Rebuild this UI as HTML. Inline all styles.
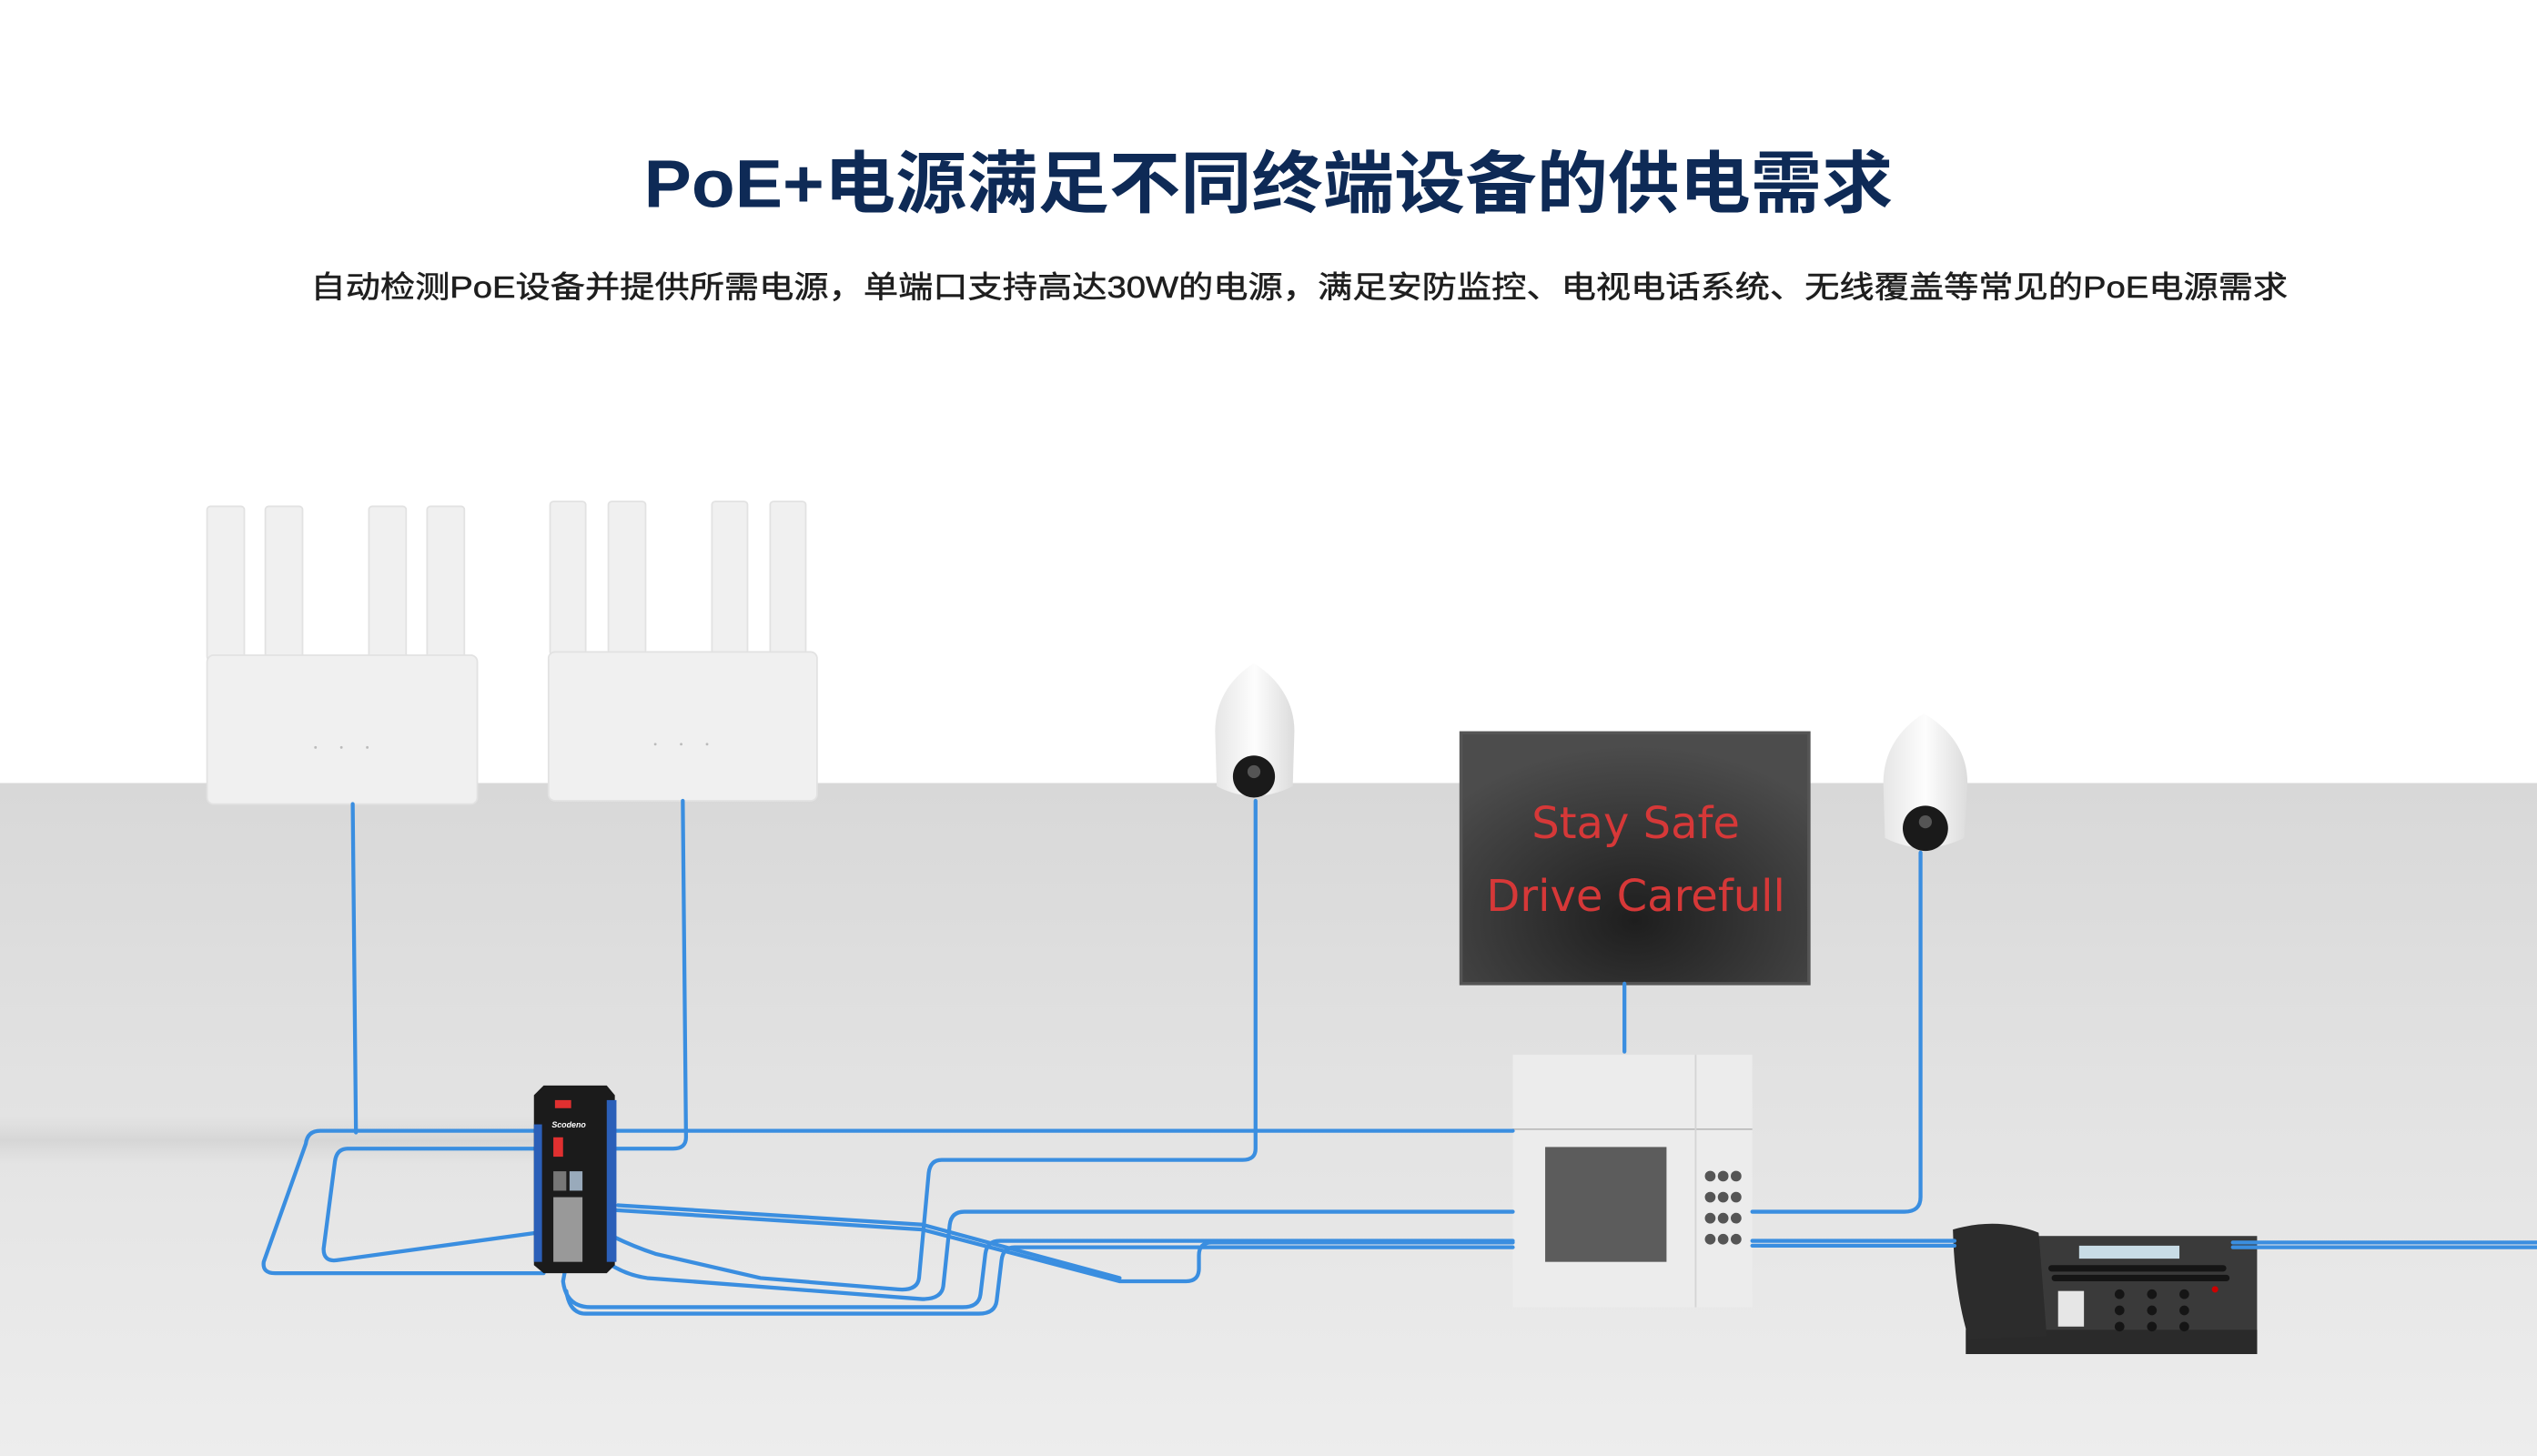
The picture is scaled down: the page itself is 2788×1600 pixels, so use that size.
<!DOCTYPE html>
<html><head><meta charset="utf-8"><style>
html,body{margin:0;padding:0;background:#fff}
svg{display:block}
</style></head><body>
<svg width="2788" height="1600" viewBox="0 0 1568 900" preserveAspectRatio="none" xmlns="http://www.w3.org/2000/svg">
<defs>
<linearGradient id="floor" x1="0" y1="0" x2="0" y2="1">
<stop offset="0" stop-color="#d8d8d8"/><stop offset="0.45" stop-color="#e2e2e2"/><stop offset="1" stop-color="#ededed"/>
</linearGradient>
<radialGradient id="mon" cx="0.5" cy="0.75" r="0.7">
<stop offset="0" stop-color="#1e1e1e"/><stop offset="1" stop-color="#4c4c4c"/>
</radialGradient>
<linearGradient id="cam" x1="0" y1="0" x2="1" y2="0">
<stop offset="0" stop-color="#e6e6e6"/><stop offset="0.5" stop-color="#fdfdfd"/><stop offset="1" stop-color="#dcdcdc"/>
</linearGradient>
<linearGradient id="shadow" x1="0" y1="0" x2="0" y2="1">
<stop offset="0" stop-color="#d4d4d4" stop-opacity="0"/><stop offset="0.5" stop-color="#d0d0d0" stop-opacity="0.7"/><stop offset="1" stop-color="#d4d4d4" stop-opacity="0"/>
</linearGradient>
</defs>
<rect x="0" y="0" width="1568" height="484" fill="#fff"/>
<rect x="0" y="484" width="1568" height="416" fill="url(#floor)"/>
<rect x="0" y="690" width="330" height="30" fill="url(#shadow)"/>
<text x="784" y="128" text-anchor="middle" font-family="Liberation Sans, Noto Sans CJK SC, sans-serif" font-weight="bold" font-size="42" fill="#0e2a56" textLength="772" lengthAdjust="spacingAndGlyphs">PoE+电源满足不同终端设备的供电需求</text>
<text x="803" y="184" text-anchor="middle" font-family="Liberation Sans, Noto Sans CJK SC, sans-serif" font-size="19" fill="#1e1e1e" stroke="#1e1e1e" stroke-width="0.3" textLength="1222" lengthAdjust="spacingAndGlyphs">自动检测PoE设备并提供所需电源，单端口支持高达30W的电源，满足安防监控、电视电话系统、无线覆盖等常见的PoE电源需求</text>

<!-- routers -->
<g fill="#f0f0f0" stroke="#e2e2e2" stroke-width="1">
<rect x="128" y="313" width="23" height="95" rx="2"/><rect x="164" y="313" width="23" height="95" rx="2"/>
<rect x="228" y="313" width="23" height="95" rx="2"/><rect x="264" y="313" width="23" height="95" rx="2"/>
<rect x="128" y="405" width="167" height="92" rx="4"/>
<rect x="340" y="310" width="22" height="95" rx="2"/><rect x="376" y="310" width="23" height="95" rx="2"/>
<rect x="440" y="310" width="22" height="95" rx="2"/><rect x="476" y="310" width="22" height="95" rx="2"/>
<rect x="339" y="403" width="166" height="92" rx="4"/>
</g>
<g fill="#bbb"><circle cx="195" cy="462" r="0.8"/><circle cx="211" cy="462" r="0.8"/><circle cx="227" cy="462" r="0.8"/><circle cx="405" cy="460" r="0.8"/><circle cx="421" cy="460" r="0.8"/><circle cx="437" cy="460" r="0.8"/></g>
<!-- cameras -->
<path d="M775 410 C762 418 751 432 751 452 L752 486 Q775 498 799 486 L800 452 C800 432 788 418 775 410Z" fill="url(#cam)"/>
<ellipse cx="775" cy="480" rx="13" ry="13" fill="#1a1a1a"/><circle cx="775" cy="477" r="4" fill="#555"/>
<path d="M1189 441 C1176 449 1164 463 1164 484 L1165 518 Q1189 530 1214 518 L1216 484 C1216 463 1203 449 1189 441Z" fill="url(#cam)"/>
<ellipse cx="1190" cy="512" rx="14" ry="14" fill="#1a1a1a"/><circle cx="1190" cy="508" r="4" fill="#555"/>
<!-- monitor -->
<rect x="903" y="453" width="215" height="155" fill="url(#mon)" stroke="#555" stroke-width="2"/>
<text x="1011" y="518" text-anchor="middle" font-family="DejaVu Sans, sans-serif" font-size="27" fill="#d63838">Stay Safe</text>
<text x="1011" y="563" text-anchor="middle" font-family="DejaVu Sans, sans-serif" font-size="27" fill="#d63838">Drive Carefull</text>
<!-- NVR -->
<rect x="935" y="652" width="148" height="156" fill="#ececec"/>
<line x1="935" y1="698" x2="1083" y2="698" stroke="#bcbcbc"/>
<line x1="1048" y1="652" x2="1048" y2="808" stroke="#d4d4d4"/>
<rect x="955" y="709" width="75" height="71" fill="#5c5c5c"/>
<g fill="#555">
<circle cx="1057" cy="727" r="3.3"/><circle cx="1065" cy="727" r="3.3"/><circle cx="1073" cy="727" r="3.3"/>
<circle cx="1057" cy="740" r="3.3"/><circle cx="1065" cy="740" r="3.3"/><circle cx="1073" cy="740" r="3.3"/>
<circle cx="1057" cy="753" r="3.3"/><circle cx="1065" cy="753" r="3.3"/><circle cx="1073" cy="753" r="3.3"/>
<circle cx="1057" cy="766" r="3.3"/><circle cx="1065" cy="766" r="3.3"/><circle cx="1073" cy="766" r="3.3"/>
</g>
<!-- phone -->
<rect x="1215" y="764" width="180" height="73" fill="#3a3a3a"/>
<rect x="1215" y="822" width="180" height="15" fill="#2a2a2a"/>
<path d="M1207 760 Q1235 752 1260 762 L1265 826 L1217 828 Q1208 800 1207 760Z" fill="#2c2c2c"/>
<rect x="1285" y="770" width="62" height="8" fill="#c8dce6"/>
<rect x="1272" y="798" width="16" height="22" fill="#e6e6e6"/>
<g fill="#151515">
<rect x="1266" y="782" width="110" height="4" rx="2"/>
<rect x="1268" y="788" width="110" height="4" rx="2"/>
<circle cx="1310" cy="800" r="3"/><circle cx="1330" cy="800" r="3"/><circle cx="1350" cy="800" r="3"/>
<circle cx="1310" cy="810" r="3"/><circle cx="1330" cy="810" r="3"/><circle cx="1350" cy="810" r="3"/>
<circle cx="1310" cy="820" r="3"/><circle cx="1330" cy="820" r="3"/><circle cx="1350" cy="820" r="3"/>
</g>
<circle cx="1369" cy="797" r="2" fill="#c00"/>
<!-- cables -->
<g fill="none" stroke="#3a8ee0" stroke-width="2.4" stroke-linecap="round">
<path d="M218 497 L220 700"/>
<path d="M422 495 L424 703 Q424 710 416 710 H215 Q208 710 207 718 L200 772 Q200 780 208 779 L332 762"/>
<path d="M935 699 H198 Q190 699 189 707 L163 780 Q162 787 170 787 H336"/>
<path d="M776 495 V710 Q776 717 768 717 H582 Q575 717 574 725 L568 790 Q567 798 555 797 L470 790 L405 775 Q375 765 352 748"/>
<path d="M1004 608 V650"/>
<path d="M935 749 H596 Q588 749 587 757 L583 795 Q582 803 570 803 L400 790 Q372 786 355 758"/>
<path d="M935 767 H618 Q610 767 609 775 L606 800 Q605 808 595 808 H365 Q350 808 348 792 L352 770"/>
<path d="M935 771 H627 Q620 771 619 779 L616 804 Q615 812 605 812 H362 Q352 812 350 798"/>
<path d="M935 768 H749 Q741 768 741 776 L741 784 Q741 792 733 792 H692 L570 760 L380 748 Q366 743 360 735"/>
<path d="M692 790 L570 757 L382 745"/>
<path d="M1187 527 V740 Q1187 749 1177 749 H1083"/>
<path d="M1083 767 H1208 M1083 770 H1208"/>
<path d="M1380 768 H1568 M1380 771 H1568"/>
</g>
<!-- switch -->
<path d="M330 677 L336 671 H375 L380 677 V782 L375 787 H336 L330 782Z" fill="#1b1b1b"/>
<rect x="330" y="695" width="5" height="85" fill="#2b5fb8"/>
<rect x="375" y="680" width="6" height="100" fill="#2b5fb8"/>
<rect x="343" y="680" width="10" height="5" fill="#e03030"/>
<text x="341" y="697" font-family="Liberation Sans, sans-serif" font-size="5" font-style="italic" font-weight="bold" fill="#fff">Scodeno</text>
<rect x="342" y="703" width="6" height="12" fill="#e03030"/>
<rect x="342" y="724" width="8" height="12" fill="#777"/>
<rect x="352" y="724" width="8" height="12" fill="#9ab"/>
<rect x="342" y="740" width="18" height="40" fill="#999"/>
</svg>
</body></html>
